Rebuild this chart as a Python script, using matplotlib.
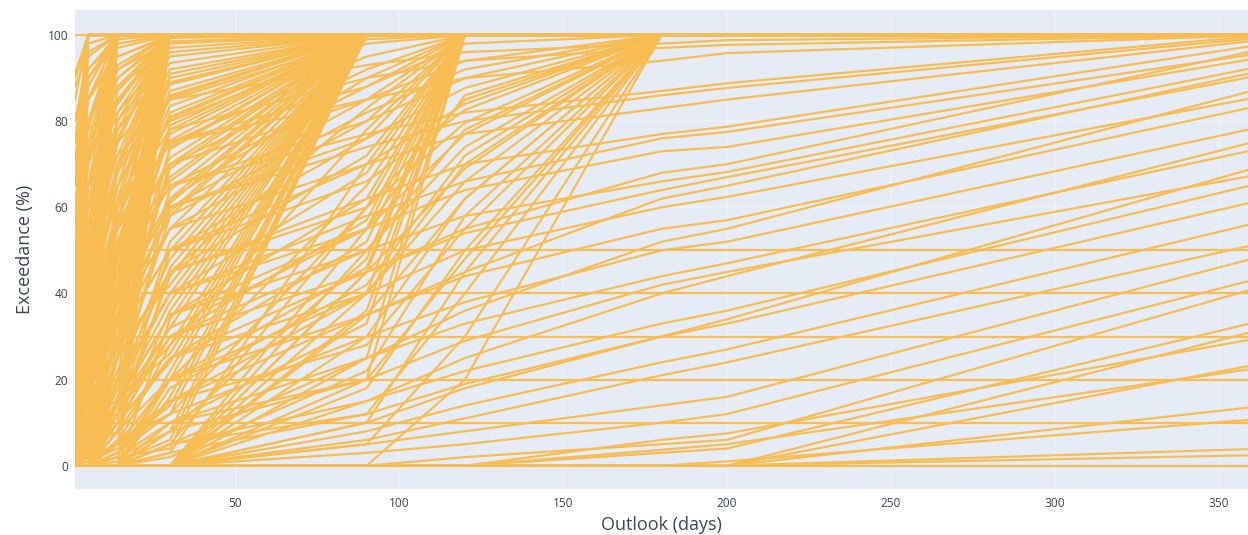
import matplotlib
matplotlib.use("Agg")
import matplotlib.pyplot as plt

# outlook horizons (days) at which exceedance is reported
outlook_days = [1, 5, 14, 30, 90, 120, 180, 200, 365]

# series that stay at one level for every outlook
flat_levels = [0, 10, 20, 30, 40, 50, 100]

# series that hit 100 % at day 5: value at day 1
full_by_day5 = [91, 85, 75, 65, 55, 45, 35, 25, 15, 5, 0, 70, 40, 10]

# series that hit 100 % at day 14: values at days 1, 5
full_by_day14 = [
    (90, 98), (80, 95), (70, 92), (60, 88), (50, 85), (40, 80), (30, 75),
    (20, 65), (10, 55), (5, 45), (0, 35), (0, 25), (0, 15), (0, 5), (0, 0),
    (25, 50), (45, 70), (88, 96), (75, 85), (65, 78), (55, 72), (35, 60),
    (15, 40), (8, 30), (0, 45), (0, 55), (20, 30), (0, 10), (30, 40),
    (50, 60), (65, 90), (12, 20),
]

# series that hit 100 % at day 30: values at days 1, 5, 14
full_by_day30 = [
    (60, 85, 97), (50, 80, 95), (70, 90, 98), (40, 70, 92), (30, 65, 90),
    (55, 75, 88), (20, 55, 85), (45, 60, 80), (10, 45, 78), (35, 50, 75),
    (0, 30, 70), (25, 40, 65), (5, 25, 60), (15, 35, 55), (0, 20, 50),
    (10, 15, 45), (0, 10, 40), (0, 5, 30), (0, 0, 20), (0, 12, 35),
    (0, 0, 10), (0, 0, 0), (80, 92, 99), (65, 80, 93), (40, 55, 87),
    (20, 35, 82), (0, 40, 76), (30, 45, 68), (0, 25, 62), (15, 28, 57),
    (0, 15, 48), (5, 20, 42), (0, 8, 38), (0, 3, 33), (10, 18, 27),
    (0, 0, 25), (0, 5, 15), (0, 2, 5), (50, 65, 72), (70, 78, 84),
]

# series that hit 100 % at day 90: values at days 1, 5, 14, 30
full_by_day90 = [
    (40, 70, 90, 99.3), (30, 60, 85, 98), (50, 75, 88, 97), (20, 50, 80, 95),
    (35, 55, 78, 93.5), (10, 40, 70, 92), (25, 45, 75, 90), (15, 35, 65, 88.5),
    (5, 30, 60, 87), (30, 50, 72, 85.5), (0, 20, 55, 83.5), (10, 25, 50, 82),
    (20, 40, 62, 80.5), (5, 15, 45, 79), (0, 10, 40, 77), (15, 30, 55, 75.5),
    (0, 12, 35, 73.5), (8, 20, 48, 71.5), (0, 5, 30, 70), (3, 18, 42, 67),
    (0, 8, 25, 64), (0, 15, 38, 61), (0, 3, 20, 58), (5, 10, 30, 55),
    (0, 0, 15, 52), (0, 6, 22, 48), (0, 0, 12, 44), (0, 2, 18, 40),
    (0, 0, 8, 36), (0, 0, 14, 32), (0, 0, 5, 28), (0, 0, 10, 24),
    (0, 0, 3, 20), (0, 0, 0, 16), (0, 0, 6, 12), (0, 0, 0, 8),
    (0, 0, 2, 4),
    (70, 85, 95, 99.6), (60, 80, 92, 98.5), (45, 65, 82, 96), (20, 30, 45, 91),
    (0, 35, 68, 89), (10, 22, 52, 86), (0, 25, 58, 81), (30, 35, 40, 78),
    (0, 0, 25, 74), (0, 18, 28, 69), (0, 30, 50, 66), (12, 15, 18, 62),
    (0, 0, 35, 59), (0, 10, 12, 50), (0, 4, 8, 46), (0, 0, 28, 42),
    (0, 12, 15, 38), (0, 0, 0, 34), (0, 0, 16, 26), (0, 0, 0, 22),
    (0, 1, 4, 14), (0, 0, 1, 6),
]

# series that hit 100 % at day 120: values at days 1, 5, 14, 30, 90
full_by_day120 = [
    (10, 30, 60, 80, 98), (8, 25, 55, 75, 95), (5, 20, 50, 70, 92),
    (5, 18, 45, 65, 88), (3, 15, 40, 60, 85), (2, 10, 35, 55, 80),
    (0, 8, 30, 50, 76), (0, 5, 25, 45, 72), (0, 3, 20, 40, 68),
    (0, 2, 15, 35, 62), (0, 0, 10, 30, 57), (0, 0, 8, 25, 52),
    (0, 0, 5, 20, 46), (0, 0, 3, 15, 40), (0, 0, 0, 10, 33),
    (0, 0, 0, 5, 25), (15, 35, 65, 85, 99), (0, 10, 40, 62, 90),
    (0, 0, 20, 45, 83), (0, 5, 15, 28, 78), (0, 0, 0, 20, 65),
    (0, 0, 2, 8, 48), (0, 0, 0, 0, 36), (0, 0, 0, 0, 20),
    (0, 0, 0, 0, 55), (0, 0, 0, 3, 70), (0, 0, 0, 0, 45), (0, 0, 5, 12, 60),
]

# series that hit 100 % at day 180: values at days 1, 5, 14, 30, 90, 120
full_by_day180 = [
    (10, 30, 55, 75, 88, 98), (8, 25, 50, 70, 85, 94), (5, 20, 45, 65, 80, 90),
    (5, 15, 40, 60, 76, 87.7), (3, 12, 35, 55, 70, 84), (2, 10, 30, 50, 66, 82.6),
    (0, 8, 25, 45, 60, 79.6), (0, 5, 20, 40, 55, 77), (0, 3, 15, 35, 50, 74),
    (0, 2, 10, 30, 45, 69), (0, 0, 8, 25, 40, 66), (0, 0, 5, 20, 35, 62),
    (0, 0, 3, 15, 28, 55), (0, 0, 0, 10, 20, 48), (0, 0, 0, 5, 12, 40),
    (0, 0, 0, 0, 5, 30), (0, 10, 35, 58, 82, 92), (0, 0, 12, 32, 55, 86),
    (0, 0, 0, 18, 42, 72), (0, 0, 0, 2, 22, 58), (0, 0, 0, 0, 10, 45),
    (0, 0, 0, 0, 0, 20), (0, 0, 0, 0, 30, 62), (0, 0, 0, 0, 40, 70),
    (0, 0, 0, 0, 50, 78), (0, 0, 0, 5, 60, 85), (0, 0, 0, 0, 18, 50),
]

# series still below 100 % at day 200: values at every outlook
slow_series = [
    (20, 45, 70, 85, 93, 96, 98, 98.8, 100),
    (15, 35, 60, 78, 90, 94, 97, 97.7, 100),
    (10, 30, 55, 75, 85, 90, 94, 95.8, 100),
    (5, 20, 45, 65, 77, 82, 87, 88.8, 100),
    (5, 18, 40, 60, 74, 80, 86, 87.7, 99.5),
    (3, 12, 30, 50, 70, 77, 83, 85, 99),
    (2, 10, 25, 45, 62, 70, 77, 78.7, 98),
    (0, 8, 20, 40, 58, 66, 76, 77.5, 96),
    (0, 5, 15, 35, 55, 64, 73, 74, 95),
    (0, 3, 12, 30, 50, 58, 66, 68.2, 93),
    (0, 2, 10, 25, 45, 54, 64, 67, 91),
    (0, 0, 8, 20, 40, 50, 60, 62.4, 86),
    (0, 0, 5, 15, 35, 44, 55, 57, 84),
    (0, 0, 3, 12, 30, 38, 50, 52, 79),
    (0, 0, 2, 10, 25, 33, 44, 47, 74),
    (0, 0, 0, 8, 20, 29, 42, 45, 68),
    (0, 0, 0, 5, 15, 22, 33, 36, 66),
    (0, 0, 0, 3, 12, 19, 30, 33, 62),
    (0, 0, 0, 0, 8, 14, 24, 27, 57),
    (0, 0, 0, 0, 6, 11, 21, 24, 52),
    (0, 0, 0, 0, 5, 8, 14, 16, 49),
    (0, 0, 0, 0, 3, 5, 10, 12, 44),
    (0, 0, 0, 0, 0, 2, 5, 6, 42),
    (0, 0, 0, 0, 0, 0, 3, 4, 34),
    (0, 0, 0, 0, 0, 0, 3.7, 5, 23),
    (0, 0, 0, 0, 0, 0, 6, 7.5, 30),
    (0, 0, 0, 0, 0, 0, 0, 0, 32),
    (0, 0, 0, 0, 0, 0, 0, 0, 24),
    (0, 0, 0, 0, 0, 0, 0, 0, 14),
    (0, 0, 0, 0, 0, 0, 0, 1, 11),
    (0, 0, 0, 0, 0, 0, 0, 0, 4),
    (0, 0, 0, 0, 0, 0, 0, 0, 2.5),
    (0, 0, 0, 0, 35, 45, 62, 65, 92),
    (0, 0, 0, 0, 25, 36, 52, 55, 88),
    (0, 0, 0, 0, 45, 55, 68, 70, 97),
    (0, 0, 0, 0, 15, 25, 40, 44, 76),
    (0, 0, 0, 0, 10, 18, 30, 34, 70),
]

x_ticks = [50, 100, 150, 200, 250, 300, 350]
y_ticks = [0, 20, 40, 60, 80, 100]

LINE = "#F8BD52"
BG = "#E5ECF6"
GRID = "#EEF2F9"
TEXT = "#3b4656"

plt.rcParams["font.family"] = ["Open Sans", "DejaVu Sans"]

# collect every series as a full row over outlook_days
n = len(outlook_days)
rows = [[v] * n for v in flat_levels]
for group in ([(v,) for v in full_by_day5], full_by_day14, full_by_day30,
              full_by_day90, full_by_day120, full_by_day180):
    for start in group:
        rows.append(list(start) + [100] * (n - len(start)))
rows += [list(r) for r in slow_series]

fig = plt.figure(figsize=(12.48, 5.35), dpi=100)
ax = fig.add_axes([75 / 1248, 1 - 489 / 535, 1 - 75 / 1248, (489 - 10) / 535])
ax.set_facecolor(BG)

for r in rows:
    ax.plot(outlook_days, r, color=LINE, lw=1.6, solid_joinstyle="round", zorder=3)

ax.set_xlim(1, 359)
ax.set_ylim(-5.4, 105.8)
ax.set_xticks(x_ticks)
ax.set_yticks(y_ticks)
ax.grid(True, color=GRID, lw=1.1, zorder=0)
ax.set_axisbelow(True)
for s in ax.spines.values():
    s.set_visible(False)
ax.tick_params(length=0, labelsize=8.6, labelcolor=TEXT)
ax.tick_params(axis="x", pad=6)
ax.tick_params(axis="y", pad=5)

ax.set_xlabel("Outlook (days)", fontsize=13, color=TEXT, labelpad=4)
ax.set_ylabel("Exceedance (%)", fontsize=13, color=TEXT, labelpad=10)

fig.savefig("out.png", dpi=100, facecolor="white")
